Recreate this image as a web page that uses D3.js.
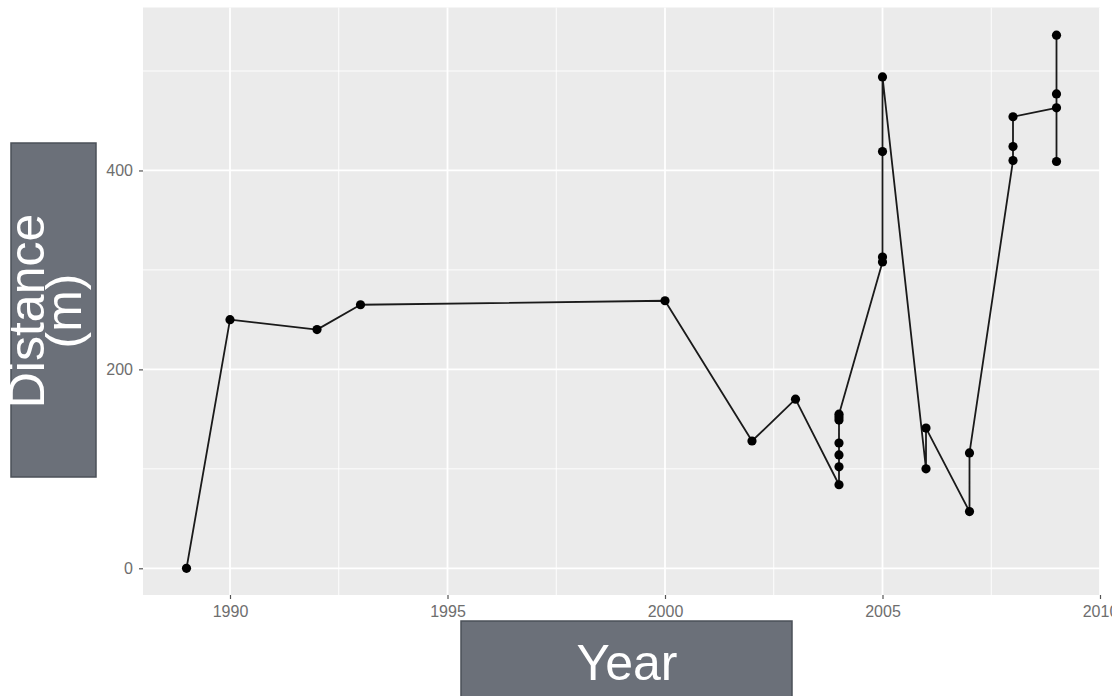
<!DOCTYPE html>
<html>
<head>
<meta charset="utf-8">
<script src="https://cdn.jsdelivr.net/npm/d3@7"></script>
<style>
  html, body { margin: 0; padding: 0; background: #fff; }
  svg { display: block; }
</style>
</head>
<body>
<svg id="chart" width="1112" height="696"></svg>
<script>
// Data (in plotting order; ties within a year kept in data order)
const years = [1989, 1990, 1992, 1993, 2000, 2002, 2003,
  2004, 2004, 2004, 2004, 2004, 2004, 2004,
  2005, 2005, 2005, 2005,
  2006, 2006,
  2007, 2007,
  2008, 2008, 2008,
  2009, 2009, 2009, 2009];
const distances = [0, 250, 240, 265, 269, 128, 170,
  84, 102, 114, 126, 149, 152, 155,
  308, 313, 419, 494,
  100, 141,
  57, 116,
  410, 424, 454,
  463, 409, 477, 536];
const xTicks = [1990, 1995, 2000, 2005, 2010];
const xMinor = [1992.5, 1997.5, 2002.5, 2007.5];
const yTicks = [0, 200, 400];
const yMinor = [100, 300, 500];
const xTitle = "Year";
const yTitleLines = ["Distance", "(m)"];

const data = years.map((y, i) => ({ year: y, dist: distances[i] }));

const svg = d3.select("#chart");
const panel = { left: 143, right: 1100, top: 7.5, bottom: 595 };

const x = d3.scaleLinear().domain([1988, 2010]).range([panel.left, panel.right]);
const y = d3.scaleLinear().domain([-26.85, 563.85]).range([panel.bottom, panel.top]);

// Panel background
svg.append("rect")
  .attr("x", panel.left).attr("y", panel.top)
  .attr("width", panel.right - panel.left).attr("height", panel.bottom - panel.top)
  .attr("fill", "#ebebeb");

const grid = svg.append("g");
// minor grid
grid.selectAll(".xminor").data(xMinor).enter().append("line")
  .attr("x1", d => x(d)).attr("x2", d => x(d))
  .attr("y1", panel.top).attr("y2", panel.bottom)
  .attr("stroke", "#fff").attr("stroke-width", 0.9);
grid.selectAll(".yminor").data(yMinor).enter().append("line")
  .attr("x1", panel.left).attr("x2", panel.right)
  .attr("y1", d => y(d)).attr("y2", d => y(d))
  .attr("stroke", "#fff").attr("stroke-width", 0.9);
// major grid
grid.selectAll(".xmajor").data(xTicks).enter().append("line")
  .attr("x1", d => x(d)).attr("x2", d => x(d))
  .attr("y1", panel.top).attr("y2", panel.bottom)
  .attr("stroke", "#fff").attr("stroke-width", 1.8);
grid.selectAll(".ymajor").data(yTicks).enter().append("line")
  .attr("x1", panel.left).attr("x2", panel.right)
  .attr("y1", d => y(d)).attr("y2", d => y(d))
  .attr("stroke", "#fff").attr("stroke-width", 1.8);

// Axes
const xAxis = d3.axisBottom(x).tickValues(xTicks).tickFormat(d3.format("d"))
  .tickSize(4).tickPadding(7);
const yAxis = d3.axisLeft(y).tickValues(yTicks).tickFormat(d3.format("d"))
  .tickSize(4).tickPadding(6);

const gx = svg.append("g").attr("transform", `translate(0,${panel.bottom})`).call(xAxis);
const gy = svg.append("g").attr("transform", `translate(${panel.left},0)`).call(yAxis);
[gx, gy].forEach(g => {
  g.select(".domain").remove();
  g.selectAll(".tick line").attr("stroke", "#555").attr("stroke-width", 1.2);
  g.selectAll(".tick text")
    .attr("fill", "#6e6e6e")
    .style("font-family", "'Liberation Sans', Arial, sans-serif")
    .style("font-size", "16px");
});

// Line
const line = d3.line().x(d => x(d.year)).y(d => y(d.dist));
svg.append("path").datum(data)
  .attr("d", line)
  .attr("fill", "none")
  .attr("stroke", "#1a1a1a")
  .attr("stroke-width", 1.8)
  .attr("stroke-linejoin", "round");

// Points
svg.append("g").selectAll("circle").data(data).enter().append("circle")
  .attr("cx", d => x(d.year)).attr("cy", d => y(d.dist))
  .attr("r", 4.6)
  .attr("fill", "#000");

// Y title box
svg.append("rect")
  .attr("x", 11).attr("y", 143).attr("width", 85).attr("height", 334)
  .attr("fill", "#6b7079").attr("stroke", "#4b5058").attr("stroke-width", 1.5);
const yt = svg.append("text")
  .attr("transform", "translate(44,311) rotate(-90)")
  .attr("text-anchor", "middle")
  .attr("fill", "#fff")
  .style("font-family", "'Liberation Sans', Arial, sans-serif")
  .style("font-size", "50px");
yTitleLines.forEach((t, i) => {
  yt.append("tspan").attr("x", 0).attr("dy", i === 0 ? 0 : 37).text(t);
});

// X title box
svg.append("rect")
  .attr("x", 461).attr("y", 621).attr("width", 331).attr("height", 90)
  .attr("fill", "#6b7079").attr("stroke", "#4b5058").attr("stroke-width", 1.5);
svg.append("text")
  .attr("x", 627).attr("y", 680)
  .attr("text-anchor", "middle")
  .attr("fill", "#fff")
  .style("font-family", "'Liberation Sans', Arial, sans-serif")
  .style("font-size", "50px")
  .text(xTitle);
</script>
</body>
</html>
